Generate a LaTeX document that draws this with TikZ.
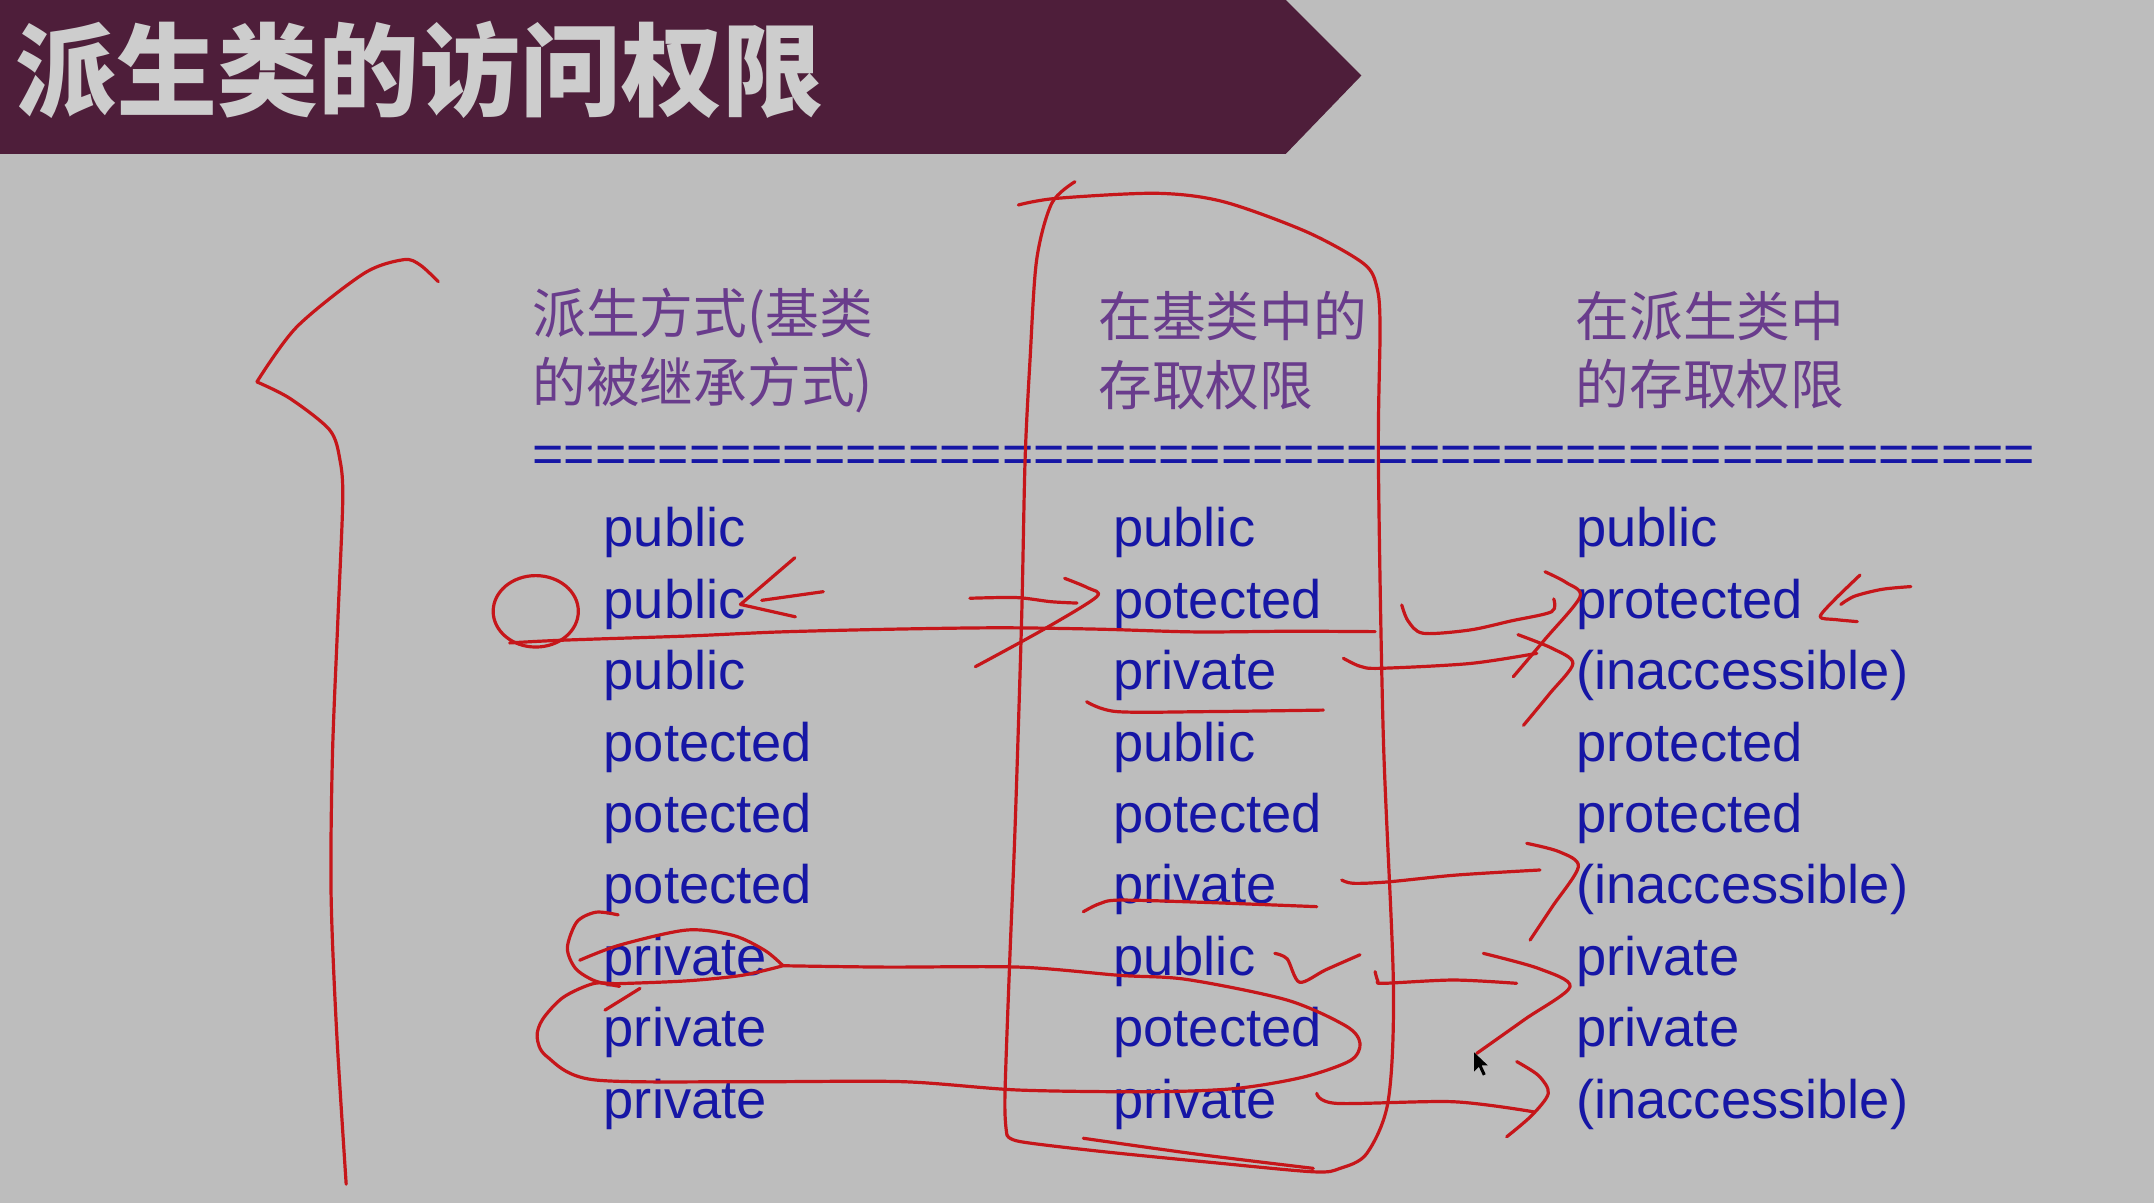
\documentclass[tikz,border=0pt]{standalone}
\usepackage{fontspec}
\setmainfont{Liberation Sans}
\newfontfamily\cjk{Noto Sans CJK SC}
\usetikzlibrary{matrix,positioning}

\definecolor{slidebg}{RGB}{189,189,189}
\definecolor{banner}{RGB}{78,30,58}
\definecolor{titlegray}{RGB}{205,205,205}
\definecolor{headpurple}{RGB}{105,60,140}
\definecolor{bodyblue}{RGB}{22,22,165}
\definecolor{inkred}{RGB}{198,22,26}

\tikzset{
  ink/.style={draw=inkred, line width=3.2pt, line cap=round, line join=round},
  cell/.style={anchor=base west, inner sep=0pt, outer sep=0pt, text height=40pt, text depth=31.43pt,
    align=left, text=bodyblue, font=\fontsize{54.3pt}{64pt}\selectfont},
  head/.style={anchor=west, inner sep=0pt, align=left, text=headpurple,
    font=\cjk\fontsize{53.7pt}{68.7pt}\selectfont},
}

\begin{document}
\begin{tikzpicture}[x=1.3737pt, y=-1.3737pt]
  \fill[slidebg] (0,0) rectangle (1568,876);
  \useasboundingbox (0,0) rectangle (1568,876);

  % title bar
  \fill[banner] (0,0) -- (936,0) -- (991,55) -- (936,112) -- (0,112) -- cycle;
  \node (title) [anchor=west, inner sep=0pt, text=titlegray,
    font=\cjk\bfseries\fontsize{101pt}{101pt}\selectfont] at (11,51) {派生类的访问权限};

  % column heads
  \node (head-1) [head] at (387.5,255) {派生方式(基类\\的被继承方式)};
  \node (head-2) [head] at (799.5,255) {在基类中的\\存取权限};
  \node (head-3) [head] at (1147,255) {在派生类中\\的存取权限};
  \node (rule) [anchor=base west, inner sep=0pt, text=bodyblue, font=\fontsize{53.6pt}{64pt}\selectfont]
    at (387.5,344) {================================================};

  % table
  \matrix (tbl) [matrix of nodes, ampersand replacement=\&, anchor=north west,
    inner sep=0pt, outer sep=0pt, row sep=0pt, column sep=0pt, nodes={cell},
    column 1/.style={nodes={text width=509.6pt}},
    column 2/.style={nodes={text width=462.9pt}},
    column 3/.style={nodes={text width=340pt}}] at (439.5,368.9) {
    public   \& public   \& public \\
    public   \& potected \& protected \\
    public   \& private  \& (inaccessible) \\
    potected \& public   \& protected \\
    potected \& potected \& protected \\
    potected \& private  \& (inaccessible) \\
    private  \& public   \& private \\
    private  \& potected \& private \\
    private  \& private  \& (inaccessible) \\
  };

  % red pen marks
  \draw[ink] plot[smooth] coordinates {(319,205) (306,193) (294,189) (265,199) (216,238) (187,278)}
    plot[smooth] coordinates {(187,278) (211,290) (240,313) (247.5,335) (249.5,364) (246,450) (242,550) (241,650) (245,750) (252,862)};
  \draw[ink] plot[smooth] coordinates {(741.3,149.2) (769,144.4) (842,140.7) (890.5,146.8) (951,168.7) (992.4,191.7) (1002.2,208.7) (1004.6,238) (1003.4,335) (1007,537) (1014.3,716) (1010.6,801) (995,839.6) (975.5,850.5) (956,853) (880,846) (800,838) (742.5,831) (733,826)};
  \draw[ink] plot[smooth] coordinates {(782.5,132.3) (765.6,148) (754.6,189.3) (749.8,262) (746.2,334.9) (743.7,450) (739,600) (735,700) (731.5,800) (733,826)};
  \draw[ink] plot[smooth] coordinates {(788.6,828.6) (870,840) (956,850.5)};

  % row 2
  \draw[ink] (390,445) ellipse [x radius=31, y radius=26];
  \draw[ink] plot[smooth] coordinates {(371,468) (410,466) (500,463) (568,460) (650,458) (728,457) (800,458) (870,460) (940,459.5) (1001,459.8)};
  \draw[ink] (578.6,406) -- (539,440) -- (579,449);
  \draw[ink] (554.5,437) -- (599.3,430.7);
  \draw[ink] plot[smooth] coordinates {(706,435.5) (740,435) (765,438) (784,439)};
  \draw[ink] plot[smooth] coordinates {(775,421) (792,428) (798.3,434.4) (760,458) (710,485.3)};
  \draw[ink] plot[smooth] coordinates {(1020.4,440.4) (1025,452) (1036,461) (1070,458.6) (1100,452) (1129.5,445.3) (1131,436)};
  \draw[ink] plot[smooth] coordinates {(1124.7,416.2) (1140,424) (1150.2,434.4) (1125,465) (1101.6,492.6)};
  \draw[ink] plot[smooth] coordinates {(1391,427) (1370,429) (1350,434) (1340,440)};
  \draw[ink] plot[smooth] coordinates {(1354,418.6) (1335,437) (1325,449) (1336,451) (1352,452.5)};

  % row 3
  \draw[ink] plot[smooth] coordinates {(791,510.8) (812.9,518) (880,518) (963.3,516.9)};
  \draw[ink] plot[smooth] coordinates {(977.9,479.2) (990,485) (1004.6,486.5) (1070,483) (1118.7,475.6)};
  \draw[ink] plot[smooth] coordinates {(1105,462) (1130,472) (1145,483) (1128,505) (1109,528)};

  % row 6
  \draw[ink] plot[smooth] coordinates {(788.6,663.7) (800,658) (815.3,655.2) (880,657) (958.5,660)};
  \draw[ink] plot[smooth] coordinates {(976.7,640.6) (985,643) (1010,642) (1060,637) (1121,633.3)};
  \draw[ink] plot[smooth] coordinates {(1111.4,613.9) (1135,620) (1149,630.9) (1130,660) (1113.8,684.3)};

  % row 7 to 9
  \draw[ink] plot[smooth] coordinates {(450,666) (434,664) (420,671) (413,690) (419,705) (433,714) (451,718)};
  \draw[ink] plot[smooth] coordinates {(422,699) (451,688) (500,677) (534,681) (557,692) (570,703)};
  \draw[ink] plot[smooth] coordinates {(570,703) (540,710) (500,714) (451,716) (432,716) (410,726) (395,742) (391,755) (398,769) (432,786) (548,787.4) (657,787.4) (742,793.5) (840,794.7) (900,792.3) (949,784) (983,772) (990,759.5) (980,747) (937,728) (864,713) (815,710) (742,704) (645,704) (570,703)};
  \draw[ink] (440.4,735.3) -- (465.9,719.5);
  \draw[ink] plot[smooth] coordinates {(928,694) (937,698) (946,715) (965,706) (990,695)};
  \draw[ink] plot[smooth] coordinates {(1001,707.3) (1003,714) (1007,715.8) (1058,713.4) (1104,715.8)};
  \draw[ink] plot[smooth] coordinates {(1079.8,694) (1120,705) (1142.9,718.3) (1110,742) (1075,766.8)};
  \draw[ink] plot[smooth] coordinates {(958.5,795.9) (973,803.2) (1058,802) (1116.2,809.3)};
  \draw[ink] plot[smooth] coordinates {(1104.1,772.8) (1120,783) (1127.1,795.9) (1115,812) (1096.8,827.5)};

  % mouse pointer
  \fill[black] (1073,766) -- (1073,780) -- (1076.5,776.5) -- (1079.5,783) -- (1081.5,782) -- (1078.5,775.5) -- (1083,775.5) -- cycle;
\end{tikzpicture}
\end{document}
